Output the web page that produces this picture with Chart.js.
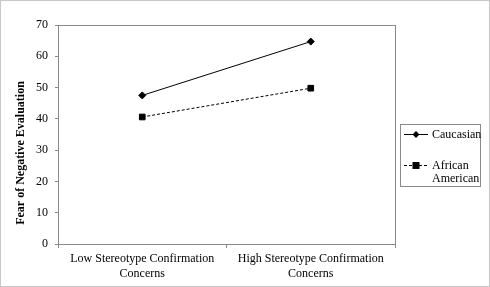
<!DOCTYPE html>
<html>
<head>
<meta charset="utf-8">
<script src="https://cdn.jsdelivr.net/npm/chart.js@4/dist/chart.umd.min.js"></script>
<style>
  html, body { margin: 0; padding: 0; background: #fff; }
  #wrap { width: 490px; height: 287px; position: relative; }
</style>
</head>
<body>
<div id="wrap"><canvas id="chart" width="490" height="287"></canvas></div>
<script>
const categories = [
  ['Low Stereotype Confirmation', 'Concerns'],
  ['High Stereotype Confirmation', 'Concerns'],
];
const caucasian = [47.5, 64.7];
const africanAmerican = [40.6, 49.8];
const seriesNames = ['Caucasian', ['African', 'American']];
const yTitle = 'Fear of Negative Evaluation';
const yTicks = { min: 0, max: 70, step: 10 };

const FONT = '"Liberation Serif", "Times New Roman", serif';
const GREY = '#8a8a8a';

// frame round the plot area, outer border, y title and the boxed legend
const framePlugin = {
  id: 'frame',
  afterDraw(chart) {
    const { ctx, chartArea: a } = chart;
    ctx.save();
    ctx.strokeStyle = GREY;
    ctx.lineWidth = 1;
    ctx.strokeRect(Math.round(a.left) + 0.5, Math.round(a.top) + 0.5,
      Math.round(a.right - a.left), Math.round(a.bottom - a.top));

    ctx.strokeStyle = '#c8c8c8';
    ctx.strokeRect(0.5, 0.5, chart.width - 1, chart.height - 1);

    // y axis title, sits a bit lower than the plot centre as in the original
    ctx.save();
    ctx.translate(21, 153);
    ctx.rotate(-Math.PI / 2);
    ctx.fillStyle = '#000';
    ctx.font = 'bold 12px ' + FONT;
    ctx.textAlign = 'center';
    ctx.textBaseline = 'middle';
    ctx.fillText(yTitle, 0, 0);
    ctx.restore();

    // legend
    const lx = 400;
    const ly = 124;
    ctx.strokeStyle = GREY;
    ctx.strokeRect(lx + 0.5, ly + 0.5, 80, 62);
    const rows = [134, 165];
    chart.data.datasets.forEach((ds, i) => {
      const y = rows[i] + 0.5;
      ctx.strokeStyle = '#000';
      ctx.lineWidth = 1;
      ctx.setLineDash(ds.borderDash || []);
      ctx.beginPath();
      ctx.moveTo(lx + 4, y);
      ctx.lineTo(lx + 28, y);
      ctx.stroke();
      ctx.setLineDash([]);
      ctx.fillStyle = '#000';
      const mx = lx + 16;
      if (ds.pointStyle === 'rect') {
        ctx.fillRect(mx - 3.5, y - 3.5, 7, 7);
      } else {
        ctx.beginPath();
        ctx.moveTo(mx, y - 3.5);
        ctx.lineTo(mx + 3.5, y);
        ctx.lineTo(mx, y + 3.5);
        ctx.lineTo(mx - 3.5, y);
        ctx.closePath();
        ctx.fill();
      }
      ctx.font = 'normal 12px ' + FONT;
      ctx.textAlign = 'left';
      ctx.textBaseline = 'middle';
      const lines = [].concat(seriesNames[i]);
      lines.forEach((t, k) => ctx.fillText(t, lx + 32, y + k * 13));
    });
    ctx.restore();
  },
};

new Chart(document.getElementById('chart'), {
  type: 'line',
  data: {
    labels: categories,
    datasets: [
      {
        label: 'Caucasian',
        data: caucasian,
        borderColor: '#000',
        backgroundColor: '#000',
        borderWidth: 1,
        pointStyle: 'rectRot',
        pointRadius: 3.5,
      },
      {
        label: 'African American',
        data: africanAmerican,
        borderColor: '#000',
        backgroundColor: '#000',
        borderWidth: 1,
        borderDash: [3, 2],
        pointStyle: 'rect',
        pointRadius: 4,
      },
    ],
  },
  options: {
    responsive: false,
    animation: false,
    layout: { padding: { left: 0, top: 25, right: 95, bottom: 0 } },
    plugins: {
      legend: { display: false },
      tooltip: { enabled: false },
    },
    scales: {
      x: {
        offset: true,
        grid: {
          offset: true,
          drawOnChartArea: false,
          tickLength: 4,
          color: GREY,
        },
        border: { color: GREY },
        ticks: {
          color: '#000',
          padding: 3,
          maxRotation: 0,
          font: { family: FONT, size: 12, lineHeight: 1.25 },
        },
        afterFit(scale) { scale.height = 287 - 244; },
      },
      y: {
        min: yTicks.min,
        max: yTicks.max,
        ticks: {
          stepSize: yTicks.step,
          color: '#000',
          padding: 7,
          font: { family: FONT, size: 12 },
        },
        grid: {
          drawOnChartArea: false,
          tickLength: 3,
          color: GREY,
        },
        border: { color: GREY },
        afterFit(scale) { scale.width = 58; },
      },
    },
  },
  plugins: [framePlugin],
});
</script>
</body>
</html>
